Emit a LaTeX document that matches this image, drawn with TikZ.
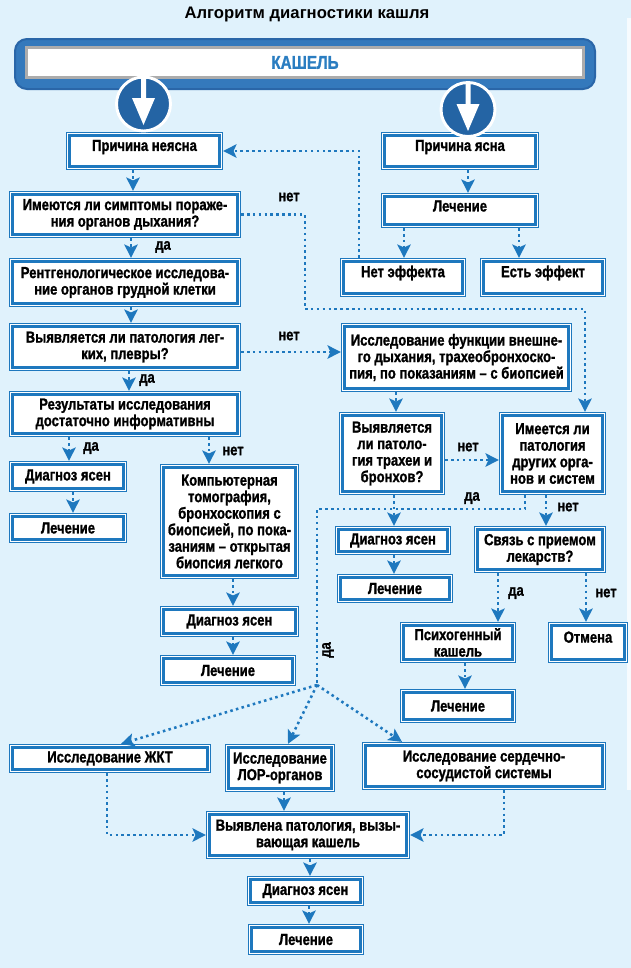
\documentclass[tikz,border=0pt]{standalone}
\usepackage{fontspec}
\setmainfont{Liberation Sans}[FakeStretch=0.815, BoldFeatures={FakeBold=1.2}]
\newfontfamily\titlefont{Liberation Sans}
\usetikzlibrary{arrows.meta}

\definecolor{bgblue}{HTML}{E0F2FC}
\definecolor{boxblue}{HTML}{1E78BE}
\definecolor{ballblue}{HTML}{2464A4}
\definecolor{bannerblue}{HTML}{3479BC}
\definecolor{bannerdark}{HTML}{2A66A8}
\definecolor{kashblue}{HTML}{2A7DC1}

\tikzset{every picture/.style={line width=0.75pt}}
\tikzset{
  boxsize/.style 2 args={minimum width=#1*0.75pt-5pt, minimum height=#2*0.75pt-5pt},
  box/.style={rectangle, inner sep=0pt, outer sep=2.6pt, align=center,
    font=\bfseries\fontsize{12}{12.4}\selectfont,
    preaction={draw=boxblue, line width=5pt},
    preaction={draw=white, fill=white, line width=3.6pt},
    draw=boxblue, line width=2.1pt},
  lift/.style={text depth=#1},
  link/.style={draw=boxblue, line width=1.9pt, line cap=butt,
    dash pattern=on 1.9pt off 2.5pt,
    -{Stealth[length=10pt,width=10pt,inset=2.2pt]}},
  ans/.style={font=\bfseries\fontsize{12}{12.4}\selectfont, inner sep=1pt},
  ball/.style={circle, fill=ballblue, draw=white, line width=2.2pt, minimum size=40.5pt}
}

\begin{document}
\begin{tikzpicture}[x=0.75pt,y=0.75pt,yscale=-1]
	\useasboundingbox (0,0) rectangle (631,968);
	%Background
	\fill[bgblue] (0,0) rectangle (631,968);
	\fill[white!70!bgblue] (627,18) rectangle (631,790);

	% Title
	\node[font=\titlefont\bfseries\fontsize{12.5}{14}\selectfont] (title) at (307,14) {Алгоритм диагностики кашля};

	%Shape: Banner
	\draw[bannerdark, fill=bannerblue, line width=1.5pt, rounded corners=9pt] (15,39) rectangle (595,89);
	\node[draw=gray!65, line width=2pt, fill=white, minimum width=418pt, minimum height=22.5pt,
		text=kashblue, font=\bfseries\fontsize{14}{14}\selectfont] (kashel) at (305,62.5) {КАШЕЛЬ};

	% Boxes
	\node[box, boxsize={157}{38}, lift=8.4pt] (neyasna) at (144.5,151) {Причина неясна};
	\node[box, boxsize={158}{38}, lift=8.4pt] (yasna) at (460,151) {Причина ясна};
	\node[box, boxsize={232}{47}] (simpt) at (125,214.5) {Имеются ли симптомы пораже-\\ния органов дыхания?};
	\node[box, boxsize={158}{35}, lift=6.8pt] (lech1) at (460,210.5) {Лечение};
	\node[box, boxsize={126}{39}, lift=9.2pt] (neteff) at (403,277.5) {Нет эффекта};
	\node[box, boxsize={126}{39}, lift=9.2pt] (esteff) at (543,277.5) {Есть эффект};
	\node[box, boxsize={232}{49}] (rentg) at (125,282.5) {Рентгенологическое исследова-\\ние органов грудной клетки};
	\node[box, boxsize={232}{48}] (legkie) at (125,347) {Выявляется ли патология лег-\\ких, плевры?};
	\node[box, boxsize={231}{69}] (funkc) at (456.5,357.5) {Исследование функции внешне-\\го дыхания, трахеобронхоско-\\пия, по показаниям – с биопсией};
	\node[box, boxsize={232}{46}] (rezult) at (125,414) {Результаты исследования\\достаточно информативны};
	\node[box, boxsize={106}{83}] (trahei) at (392,453.5) {Выявляется\\ли патоло-\\гия трахеи и\\бронхов?};
	\node[box, boxsize={107}{83}] (drugie) at (552.5,453.5) {Имеется ли\\патология\\других орга-\\нов и систем};
	\node[box, boxsize={118}{31}] (diagA) at (68,476.5) {Диагноз ясен};
	\node[box, boxsize={118}{30}] (lechA) at (68,528) {Лечение};
	\node[box, boxsize={139}{115}] (kt) at (229.5,521.5) {Компьютерная\\томография,\\бронхоскопия с\\биопсией, по пока-\\заниям – открытая\\биопсия легкого};
	\node[box, boxsize={139}{31}] (diagB) at (229.5,621.5) {Диагноз ясен};
	\node[box, boxsize={136}{31}] (lechB) at (228,670.5) {Лечение};
	\node[box, boxsize={116}{29}] (diagC) at (393,540.5) {Диагноз ясен};
	\node[box, boxsize={116}{29}] (lechC) at (395,588.5) {Лечение};
	\node[box, boxsize={132}{47}] (svyaz) at (540,549.5) {Связь с приемом\\лекарств?};
	\node[box, boxsize={116}{41}] (psih) at (458,642.5) {Психогенный\\кашель};
	\node[box, boxsize={80}{41}, lift=8.2pt] (otmena) at (588,642.5) {Отмена};
	\node[box, boxsize={116}{34}] (lechD) at (458,706) {Лечение};
	\node[box, boxsize={202}{29}] (zhkt) at (110,758.5) {Исследование ЖКТ};
	\node[box, boxsize={110}{48}] (lor) at (280,768) {Исследование\\ЛОР-органов};
	\node[box, boxsize={244}{48}] (serdce) at (484,766) {Исследование сердечно-\\сосудистой системы};
	\node[box, boxsize={204}{48}] (itog) at (308,835) {Выявлена патология, вызы-\\вающая кашель};
	\node[box, boxsize={117}{30}] (diagD) at (305.5,891) {Диагноз ясен};
	\node[box, boxsize={116}{31}] (lechE) at (306,939.5) {Лечение};

	%Shape: Circles with arrows
	\node[ball] (ballL) at (143.5,104) {};
	\fill[white] (141,76) -- (146,76) -- (146,98) -- (155,98) -- (143.5,125) -- (132,98) -- (141,98) -- cycle;
	\node[ball] (ballR) at (468,109.5) {};
	\fill[white] (465.5,82) -- (470.5,82) -- (470.5,104) -- (479.5,104) -- (468,131) -- (456.5,104) -- (465.5,104) -- cycle;

	% Connectors
	\draw[link] (133,0 |- neyasna.south) -- (133,0 |- simpt.north);
	\draw[link] (468,0 |- yasna.south) -- (468,0 |- lech1.north);
	\draw[link] (131,0 |- simpt.south) -- (131,0 |- rentg.north);
	\draw[link] (131,0 |- rentg.south) -- (131,0 |- legkie.north);
	\draw[link] (129,0 |- legkie.south) -- (129,0 |- rezult.north);
	\draw[link] (69,0 |- rezult.south) -- (69,0 |- diagA.north);
	\draw[link] (209,0 |- rezult.south) -- (209,0 |- kt.north);
	\draw[link] (73,0 |- diagA.south) -- (73,0 |- lechA.north);
	\draw[link] (233,0 |- kt.south) -- (233,0 |- diagB.north);
	\draw[link] (233,0 |- diagB.south) -- (233,0 |- lechB.north);
	\draw[link] (404,0 |- lech1.south) -- (404,0 |- neteff.north);
	\draw[link] (519,0 |- lech1.south) -- (519,0 |- esteff.north);
	\draw[link] (359,0 |- neteff.north) |- (neyasna.east);
	\draw[link] (simpt.east) -| (305,309) -| (585,0 |- drugie.north);
	\draw[link] (0,352 -| legkie.east) -- (0,352 -| funkc.west);
	\draw[link] (396,0 |- funkc.south) -- (396,0 |- trahei.north);
	\draw[link] (0,460 -| trahei.east) -- (0,460 -| drugie.west);
	\draw[link] (394,0 |- trahei.south) -- (394,0 |- diagC.north);
	\draw[link] (394,0 |- diagC.south) -- (394,0 |- lechC.north);
	\draw[link] (546,0 |- drugie.south) -- (546,0 |- svyaz.north);
	\coordinate (hub) at (317,685);
	\draw[link, -] (525,0 |- drugie.south) |- (317,509) -- (hub);
	\draw[link] (hub) -- (121,0 |- zhkt.north);
	\draw[link] (hub) -- (288,0 |- lor.north);
	\draw[link] (hub) -- (402,0 |- serdce.north);
	\draw[link] (498,0 |- svyaz.south) -- (498,0 |- psih.north);
	\draw[link] (586,0 |- svyaz.south) -- (586,0 |- otmena.north);
	\draw[link] (465,0 |- psih.south) -- (465,0 |- lechD.north);
	\draw[link] (107,0 |- zhkt.south) |- (itog.west);
	\draw[link] (284,0 |- lor.south) -- (284,0 |- itog.north);
	\draw[link] (504,0 |- serdce.south) |- (itog.east);
	\draw[link] (310,0 |- itog.south) -- (310,0 |- diagD.north);
	\draw[link] (309,0 |- diagD.south) -- (309,0 |- lechE.north);

	% Text Node
	\node[ans] (n1) at (289,197) {нет};
	\node[ans] (d1) at (163,247) {да};
	\node[ans] (n2) at (289,336) {нет};
	\node[ans] (d2) at (147,380) {да};
	\node[ans] (d3) at (91,448) {да};
	\node[ans] (n3) at (233,451) {нет};
	\node[ans] (n4) at (468,447) {нет};
	\node[ans] (d4) at (472,498) {да};
	\node[ans] (n5) at (568,507) {нет};
	\node[ans] (d5) at (516,593) {да};
	\node[ans] (n6) at (606,593) {нет};
	\node[ans, rotate=90] (d6) at (328,650) {да};
\end{tikzpicture}
\end{document}
